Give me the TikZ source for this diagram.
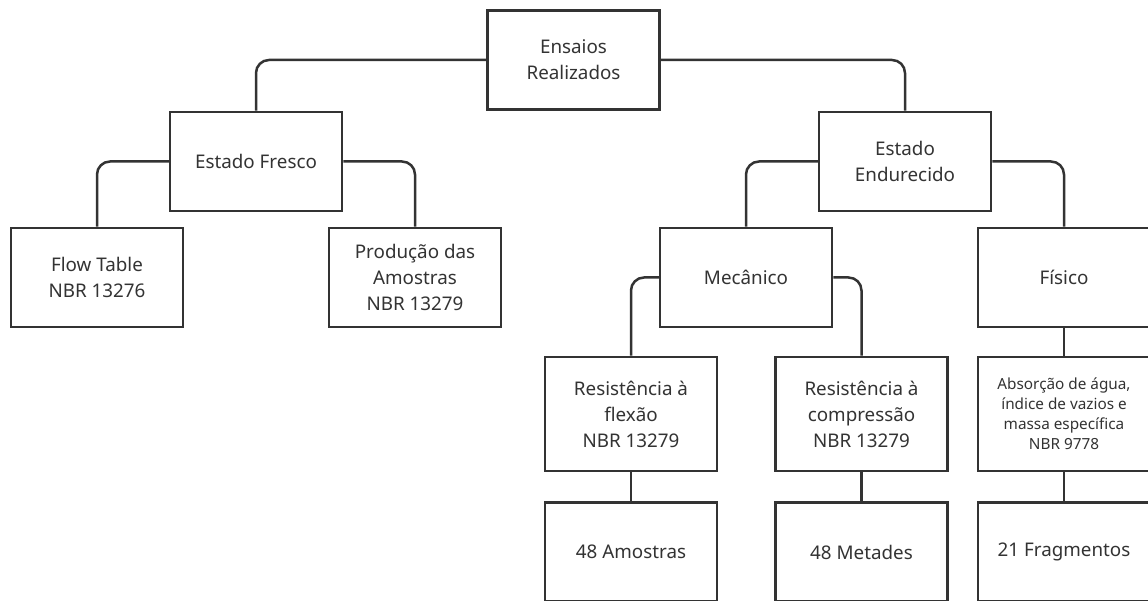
\documentclass[tikz,border=0pt]{standalone}
\usepackage{fontspec}
\setmainfont{Noto Sans}
\definecolor{ink}{HTML}{333333}
\begin{document}
\begin{tikzpicture}[x=1pt,y=-1pt,
  box/.style={draw=ink,line width=2.5pt,rectangle,minimum width=172pt,minimum height=99pt,
    align=center,inner sep=0pt,text=ink,font=\fontsize{18.8}{26}\selectfont},
  tall/.style={box,minimum height=114pt},
  small/.style={font=\fontsize{15.3}{20}\selectfont},
  conn/.style={draw=ink,line width=2.5pt,rounded corners=13pt}]
\useasboundingbox (0,0) rectangle (1148,601);
\clip (0,0) rectangle (1148,601);
\fill[white] (0,0) rectangle (1148,601);
\node[box] (ens) at (573.5,60) {Ensaios\\Realizados};
\node[box] (ef) at (256,161.5) {Estado Fresco};
\node[box] (ee) at (905,161.5) {Estado\\Endurecido};
\node[box] (ft) at (97,277.5) {Flow Table\\NBR 13276};
\node[box] (pa) at (415,277.5) {Produção das\\Amostras\\NBR 13279};
\node[box] (mec) at (746,277.5) {Mecânico};
\node[box] (fis) at (1064,277.5) {Físico};
\node[tall] (flex) at (631,414) {Resistência à\\flexão\\NBR 13279};
\node[tall] (comp) at (861.5,414) {Resistência à\\compressão\\NBR 13279};
\node[tall,small] (abs) at (1064,414) {Absorção de água,\\índice de vazios e\\massa específica\\NBR 9778};
\node[box] (am) at (631,552) {48 Amostras};
\node[box] (met) at (861.5,552) {48 Metades};
\node[box] (frag) at (1064,552) {21 Fragmentos};
\draw[conn] (ens.west) -| (ef.north);
\draw[conn] (ens.east) -| (ee.north);
\draw[conn] (ef.west) -| (ft.north);
\draw[conn] (ef.east) -| (pa.north);
\draw[conn] (ee.west) -| (mec.north);
\draw[conn] (ee.east) -| (fis.north);
\draw[conn] (mec.west) -| (flex.north);
\draw[conn] (mec.east) -| (comp.north);
\draw[conn] (fis.south) -- (abs.north);
\draw[conn] (flex.south) -- (am.north);
\draw[conn] (comp.south) -- (met.north);
\draw[conn] (abs.south) -- (frag.north);
\end{tikzpicture}
\end{document}
